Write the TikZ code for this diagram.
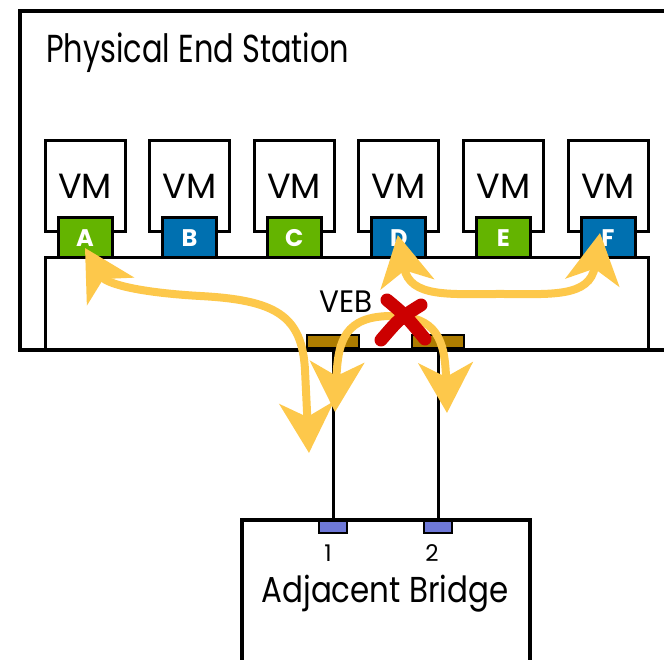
\documentclass[tikz,border=0pt]{standalone}
\usepackage{fontspec}
\setmainfont{Poppins}
\usetikzlibrary{arrows.meta}
\definecolor{portgreen}{HTML}{64B400}
\definecolor{portblue}{HTML}{0070B0}
\definecolor{uplinkbrown}{HTML}{AD7C00}
\definecolor{bridgeport}{HTML}{6E78D7}
\definecolor{flowyellow}{HTML}{FDC84B}
\definecolor{blockred}{HTML}{CC0000}
\tikzset{
  vmbox/.style={draw, line width=3, fill=white, minimum width=80, minimum height=91, inner sep=0, font=\fontsize{35}{40}\selectfont},
  port/.style={draw, line width=3, minimum width=54, minimum height=40, inner sep=0, text=white, font=\bfseries\fontsize{24}{28}\selectfont},
  uplink/.style={draw, line width=2.5, fill=uplinkbrown, minimum width=52, minimum height=13, inner sep=0},
  bport/.style={draw, line width=2, fill=bridgeport, minimum width=28, minimum height=12, inner sep=0},
  wire/.style={line width=3},
  flow/.style={draw=flowyellow, line width=8, >={Stealth[length=50pt, width=54pt, inset=14pt]}, <->},
  cross/.style={draw=blockred, line width=13, line cap=round}
}
\begin{document}
\begin{tikzpicture}[x=1pt, y=1pt]
\useasboundingbox (0,0) rectangle (664,660);
\clip (0,0) rectangle (664,660);
\draw [line width=3, fill=white] (45,310) rectangle (648,402);
\node [anchor=base west, inner sep=0, font=\fontsize{31}{36}\selectfont] (veb) at (319,347) {\scalebox{0.95}[1]{VEB}};
\node [uplink] (u1) at (333,318.5) {};
\node [uplink] (u2) at (438,318.5) {};
\draw [line width=4.5] (20,310) rectangle (700,649);
\node [anchor=base west, inner sep=0, font=\fontsize{39}{46}\selectfont] (title) at (46,597) {\scalebox{0.78}[1]{Physical End Station}};
\foreach \i/\l/\c in {1/A/portgreen,2/B/portblue,3/C/portgreen,4/D/portblue,5/E/portgreen,6/F/portblue}{
  \node [vmbox] (vm\i) at ({85+104.6*(\i-1)},473.5) {VM};
  \node [port, fill=\c] (p\l) at ({85+104.6*(\i-1)},422) {\l};
}
\node [bport] (b1) at (333,133) {};
\node [bport] (b2) at (438,133) {};
\draw [wire] (u1.south) -- (b1.north);
\draw [wire] (u2.south) -- (b2.north);
\draw [line width=4.5] (242,-20) rectangle (530,140);
\node [anchor=base, inner sep=0, font=\fontsize{23}{28}\selectfont] (n1) at (328,98) {1};
\node [anchor=base, inner sep=0, font=\fontsize{23}{28}\selectfont] (n2) at (432,98) {2};
\node [anchor=base, inner sep=0, font=\fontsize{36}{42}\selectfont] (bridge) at (385,57) {\scalebox{0.86}[1]{Adjacent Bridge}};
\coordinate (tA) at ([yshift=-10]pA.center);
\coordinate (tD) at ([xshift=-1, yshift=3]pD.center);
\coordinate (tF) at ([xshift=-8, yshift=5]pF.center);
\coordinate (dn0) at (309,207);
\coordinate (dn1) at (335,248);
\coordinate (dn2) at (447,247);
\draw [flow] (tA) .. controls (105,378) and (130,368) .. (200,364) .. controls (275,360) and (302,345) .. (305,290) -- (dn0);
\draw [flow] (tD) .. controls (410,362) and (450,366) .. (500,366) .. controls (550,366) and (590,362) .. (tF);
\draw [flow] (dn1) .. controls (338,320) and (345,344) .. (392,344) .. controls (437,344) and (445,320) .. (dn2);
\draw [cross] (387,360) .. controls (405,345) .. (425,321);
\draw [cross] (421,355) .. controls (400,342) .. (381,320);
\end{tikzpicture}
\end{document}
